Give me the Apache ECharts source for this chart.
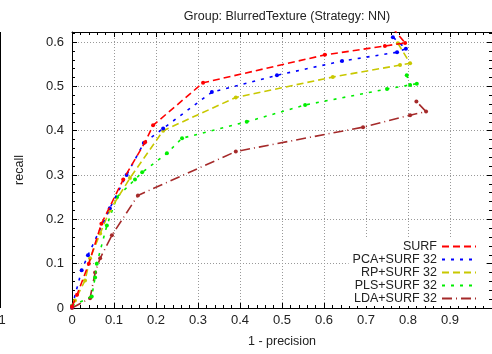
<!DOCTYPE html>
<html>
<head>
<meta charset="utf-8">
<script src="https://cdn.jsdelivr.net/npm/echarts@6/dist/echarts.min.js"></script>
<style>
  html, body { margin: 0; padding: 0; background: #fff; }
  #chart { width: 492px; height: 354px; }
</style>
</head>
<body>
<div id="chart"></div>
<script>
// values: [1 - precision, recall]
const surf = [
  [0, 0.003], [0.012, 0.03], [0.04, 0.1], [0.07, 0.19], [0.122, 0.29],
  [0.174, 0.374], [0.193, 0.412], [0.312, 0.508], [0.602, 0.571],
  [0.745, 0.591], [0.793, 0.598], [0.765, 0.63],
];
const pcaSurf = [
  [0, 0.003], [0.023, 0.085], [0.038, 0.119], [0.09, 0.225], [0.13, 0.3],
  [0.171, 0.372], [0.217, 0.405], [0.333, 0.487], [0.488, 0.525],
  [0.643, 0.557], [0.774, 0.577], [0.795, 0.585], [0.764, 0.611],
];
const rpSurf = [
  [0, 0.005], [0.007, 0.017], [0.031, 0.062], [0.043, 0.112], [0.067, 0.168],
  [0.09, 0.22], [0.138, 0.293], [0.217, 0.4], [0.39, 0.475], [0.621, 0.521],
  [0.781, 0.548], [0.805, 0.552], [0.776, 0.597],
];
const plsSurf = [
  [0, 0.005], [0.047, 0.026], [0.055, 0.069], [0.059, 0.1], [0.083, 0.186],
  [0.107, 0.25], [0.15, 0.29], [0.167, 0.306], [0.226, 0.349], [0.262, 0.383],
  [0.416, 0.42], [0.555, 0.458], [0.75, 0.494], [0.821, 0.506],
  [0.805, 0.503], [0.797, 0.525],
];
const ldaSurf = [
  [0, 0], [0.043, 0.022], [0.055, 0.08], [0.067, 0.112], [0.095, 0.164],
  [0.157, 0.254], [0.39, 0.353], [0.693, 0.408], [0.805, 0.435],
  [0.843, 0.443], [0.82, 0.466],
];

const seriesNames = ["SURF", "PCA+SURF 32", "RP+SURF 32", "PLS+SURF 32", "LDA+SURF 32"];
const seriesData = [surf, pcaSurf, rpSurf, plsSurf, ldaSurf];
const seriesColors = ["#ff0000", "#0000ff", "#c8c800", "#00ee00", "#a52a2a"];
const seriesDash = [[7, 4], [3, 6], [7, 4], [3, 6], [10, 4, 1, 4]];

const X_MIN = 0, X_MAX = 1;
const Y_MIN = 0, Y_MAX = 0.6226;
const FONT = "Liberation Sans, Arial, sans-serif";

const chart = echarts.init(document.getElementById("chart"), null, { renderer: "canvas" });

const tickCommon = {
  axisLine: { show: true, onZero: false, lineStyle: { color: "#000", width: 1 } },
  axisTick: { show: true, inside: true, length: 5, lineStyle: { color: "#000" } },
  minorTick: { show: true, splitNumber: 5, length: 3, lineStyle: { color: "#000" } },
};

function isMajor(v) {
  return Math.abs(v * 10 - Math.round(v * 10)) < 1e-6;
}

chart.setOption({
  animation: false,
  backgroundColor: "#fff",
  textStyle: { fontFamily: FONT },
  title: {
    text: "Group: BlurredTexture (Strategy: NN)",
    left: 282,
    textAlign: "center",
    top: 5,
    textStyle: { fontSize: 12.5, fontWeight: "normal", color: "#222", fontFamily: FONT },
  },
  grid: { left: 72, right: 0, top: 32, bottom: 46 },
  legend: {
    data: seriesNames,
    orient: "vertical",
    align: "right",
    right: 8,
    top: 239,
    padding: [1, 7, 1, 4],
    itemGap: 0,
    itemWidth: 34,
    itemHeight: 8,
    backgroundColor: "#fff",
    itemStyle: { opacity: 0 },
    textStyle: { fontSize: 12.5, color: "#222", lineHeight: 12.65, fontFamily: FONT },
  },
  xAxis: [
    {
      type: "value",
      min: X_MIN,
      max: X_MAX,
      interval: 0.1,
      name: "1 - precision",
      nameLocation: "middle",
      nameGap: 27,
      nameTextStyle: { fontSize: 12.5, color: "#222", fontFamily: FONT },
      ...tickCommon,
      axisLabel: {
        color: "#222", fontSize: 13, margin: 6, fontFamily: FONT,
        showMaxLabel: false,
        formatter: (v) => (isMajor(v) ? String(+v.toFixed(1)) : ""),
      },
      splitLine: { show: true, lineStyle: { color: "#999", type: [1, 2], width: 1 } },
    },
    {
      type: "value",
      position: "top",
      min: X_MIN,
      max: X_MAX,
      interval: 0.1,
      ...tickCommon,
      axisLabel: { show: false },
      splitLine: { show: false },
    },
  ],
  yAxis: [
    {
      type: "value",
      min: Y_MIN,
      max: Y_MAX,
      interval: 0.1,
      name: "recall",
      nameLocation: "middle",
      nameGap: 46,
      nameTextStyle: { fontSize: 12.5, color: "#222", fontFamily: FONT },
      ...tickCommon,
      axisLabel: {
        color: "#222", fontSize: 13, margin: 8, fontFamily: FONT,
        formatter: (v) => (isMajor(v) ? String(+v.toFixed(1)) : ""),
      },
      splitLine: {
        show: true,
        lineStyle: { color: "#999", type: [1, 2], width: 1 },
      },
    },
    {
      type: "value",
      position: "right",
      min: Y_MIN,
      max: Y_MAX,
      interval: 0.1,
      ...tickCommon,
      axisLabel: { show: false },
      splitLine: { show: false },
    },
  ],
  graphic: [
    // edge of the neighbouring panel that is cut into the picture
    { type: "line", shape: { x1: 0.5, y1: 32, x2: 0.5, y2: 308 }, style: { stroke: "#000", lineWidth: 1 } },
    { type: "text", x: 2, y: 320, style: { text: "1", fontSize: 13, fill: "#222", align: "center", verticalAlign: "middle", font: "13px " + FONT } },
  ],
  series: seriesData.map((data, i) => ({
    name: seriesNames[i],
    type: "line",
    data,
    xAxisIndex: 0,
    yAxisIndex: 0,
    symbol: "circle",
    symbolSize: 4,
    showSymbol: true,
    clip: true,
    color: seriesColors[i],
    lineStyle: { color: seriesColors[i], width: 1.6, type: seriesDash[i] },
    itemStyle: { color: seriesColors[i] },
    z: 10 - i,
  })),
});
</script>
</body>
</html>
